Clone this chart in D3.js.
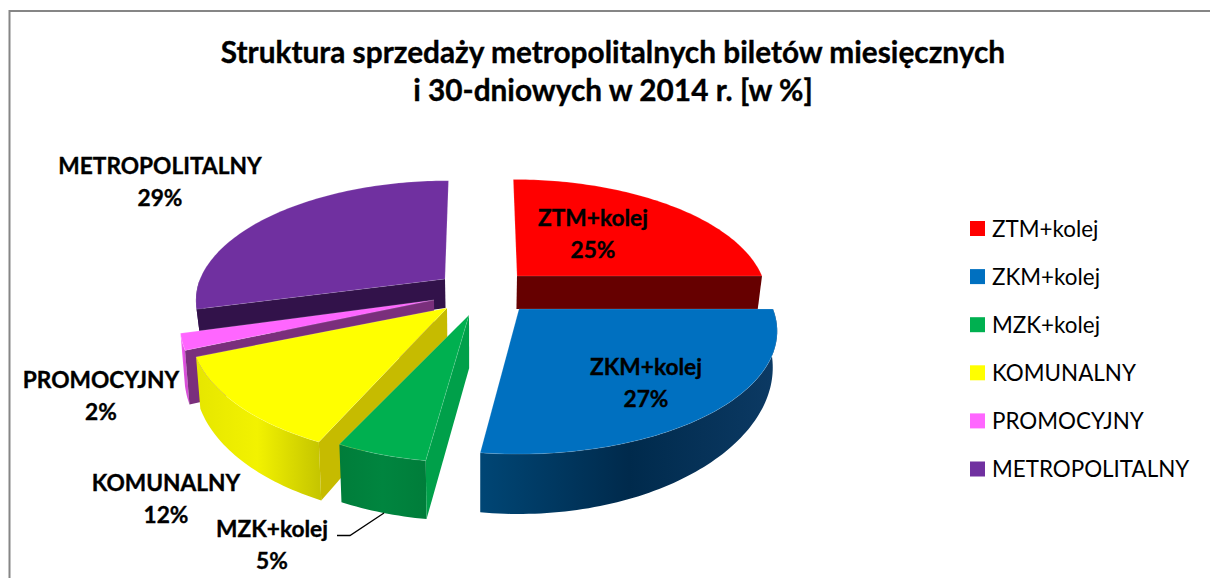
<!DOCTYPE html>
<html><head><meta charset="utf-8">
<script src="https://cdn.jsdelivr.net/npm/d3@7"></script>
<style>html,body{margin:0;padding:0;background:#fff}svg{display:block}text{font-family:Lato,sans-serif;fill:#000}.b{stroke:#000;stroke-width:.35px}</style>
</head><body><svg id="c" width="1210" height="578"></svg>
<script>
const categories = ["ZTM+kolej","ZKM+kolej","MZK+kolej","KOMUNALNY","PROMOCYJNY","METROPOLITALNY"];
const values = [25,27,5,12,2,29];
const topColors = ["#ff0000","#0070c0","#00b050","#ffff00","#ff66ff","#7030a0"];
const cutColors = ["#660000","#003f6e","#00a04a","#c6bb00","#7a2f7c","#32124a"];
const skinStops = [
  ["#8a0000","#660000"],
  ["#004675","#002a4c","#0c3a64"],
  ["#007d3a","#00853f","#007d3a"],
  ["#e6e600","#f2f200","#c6c600"],
  ["#ff66ff","#d84fd8"],
  ["#4a2070","#32124a"]
];
const titleLines = ["Struktura sprzedaży metropolitalnych biletów miesięcznych","i 30-dniowych w 2014 r. [w %]"];

// layout of each exploded slice: screen apex, radii, thickness
const geom = [
  {cx:517,cy:276,rx:245,ry:114,d:33,e:3,rot:0},
  {cx:519,cy:309,rx:254,ry:119,d:33,e:3,rot:0},
  {cx:469,cy:315,rx:245,ry:121,d:53,e:.5,rot:.02},
  {cx:447,cy:308,rx:252,ry:124,d:48,e:1.1,rot:0},
  {cx:434,cy:300,rx:250,ry:128,d:50,e:1.1,rot:0},
  {cx:445,cy:279,rx:245,ry:116,d:29,e:3,rot:0}
];
const labelPos = [[593,226],[646,375],[272,537],[166,491],[101,388],[160,174]];
const drawOrder = [5,4,0,3,2,1];
const P = 0.18, VX = 480, LEAN = 0.1, SHRINK = 0.015, LS = 32;

const svg = d3.select("#c");
const defs = svg.append("defs");
const arcs = d3.pie().sort(null).value(d=>d)(values);

function project(g,t0,z){
  const t=t0+g.rot, c=Math.cos(t), s=1/(1+P*c);
  let x=g.cx+g.rx*Math.sin(t)*s+(VX-g.cx)*LEAN*Math.max(c,0);
  let y=g.cy-g.ry*c*s;
  if(z){ const dep=g.d*Math.pow(s,g.e); y+=dep; x+=(VX-x)*SHRINK; }
  return [x,y];
}
function apex(g,z){
  return z?[g.cx+(VX-g.cx)*SHRINK,g.cy+g.d]:[g.cx,g.cy];
}
const line=d3.line();

// frame
svg.append("path").attr("d",line([[9.5,578],[9.5,11],[1210,11]]))
  .attr("fill","none").attr("stroke","#868686").attr("stroke-width",2);

drawOrder.forEach(i=>{
  const a=arcs[i], g=geom[i];
  const n=Math.max(6,Math.round((a.endAngle-a.startAngle)/0.02));
  const ts=d3.range(n+1).map(k=>a.startAngle+(a.endAngle-a.startAngle)*k/n);
  const topArc=ts.map(t=>project(g,t,0));
  const frontTs=ts.filter(t=>Math.cos(t+g.rot)<=1e-6);
  const xs=topArc.map(p=>p[0]);
  const grad=defs.append("linearGradient").attr("id","sk"+i)
    .attr("gradientUnits","userSpaceOnUse")
    .attr("x1",d3.min(xs)).attr("x2",d3.max(xs)).attr("y1",0).attr("y2",0);
  const st=skinStops[i];
  st.forEach((c,k)=>grad.append("stop").attr("offset",k/(st.length-1)).attr("stop-color",c));
  const sl=svg.append("g").attr("class","slice");
  // outer skin, front half only
  if(frontTs.length>1){
    const upper=frontTs.map(t=>project(g,t,0));
    const lower=frontTs.map(t=>project(g,t,1));
    sl.append("path").attr("d",line(upper.concat(lower.reverse()))+"Z")
      .attr("fill","url(#sk"+i+")");
  }
  // cut faces that look towards the viewer
  const faces=[];
  if(Math.sin(a.startAngle)<-1e-6) faces.push(a.startAngle);
  if(Math.sin(a.endAngle)>1e-6) faces.push(a.endAngle);
  faces.forEach(t=>{
    sl.append("path").attr("d",line([apex(g,0),project(g,t,0),project(g,t,1),apex(g,1)])+"Z")
      .attr("fill",cutColors[i]);
  });
  // top
  sl.append("path").attr("d",line([apex(g,0)].concat(topArc))+"Z")
    .attr("fill",topColors[i]).attr("stroke","#fff").attr("stroke-opacity",.25).attr("stroke-width",.6);
});

// leader
svg.append("path").attr("d",line([[337,535.5],[350,535.5],[384,513]]))
  .attr("fill","none").attr("stroke","#000").attr("stroke-width",1.3);

// data labels
categories.forEach((c,i)=>{
  const t=svg.append("text").attr("class","b").attr("text-anchor","middle").attr("font-weight",700).attr("font-size",22.7);
  t.append("tspan").attr("x",labelPos[i][0]).attr("y",labelPos[i][1]).text(c);
  t.append("tspan").attr("x",labelPos[i][0]).attr("y",labelPos[i][1]+LS).text(values[i]+"%");
});

// title
titleLines.forEach((s,i)=>{
  svg.append("text").attr("class","b").attr("x",613).attr("y",63+i*38).attr("text-anchor","middle")
    .attr("font-weight",700).attr("font-size",29.8).text(s);
});

// legend
const ly=d3.scalePoint().domain(categories).range([228.5,469]);
const leg=svg.append("g").selectAll("g").data(categories).join("g")
  .attr("transform",d=>`translate(970,${ly(d)})`);
leg.append("rect").attr("x",0).attr("y",-7.5).attr("width",15).attr("height",15)
  .attr("fill",(d,i)=>topColors[i]);
leg.append("text").attr("x",22).attr("y",8).attr("font-size",22.4).text(d=>d);
</script></body></html>
